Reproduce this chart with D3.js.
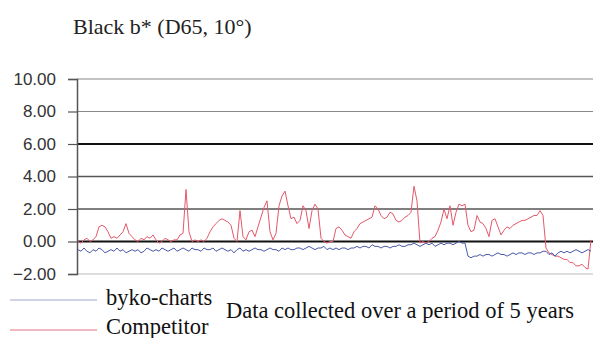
<!DOCTYPE html>
<html>
<head>
<meta charset="utf-8">
<script src="https://cdn.jsdelivr.net/npm/d3@7"></script>
<style>
  html, body { margin: 0; padding: 0; background: #fff; }
  svg { display: block; }
</style>
</head>
<body>
<svg id="chart" width="593" height="338"></svg>
<script>
const title = "Black b* (D65, 10°)";
const yTicks = [-2, 0, 2, 4, 6, 8, 10];
const seriesNames = ["byko-charts", "Competitor"];
const note = "Data collected over a period of 5 years";

const competitor = [
  0.0,-0.1,0.1,0.2,0.0,0.1,0.3,0.9,1.0,0.9,0.6,0.2,0.3,0.2,0.4,0.6,1.1,0.5,0.3,0.1,
  0.0,0.2,0.1,0.3,0.2,0.4,0.1,-0.1,0.0,0.2,0.1,0.0,0.1,0.1,0.4,0.5,3.2,0.6,0.0,0.1,
  0.0,0.1,0.0,0.2,0.6,0.9,1.1,1.3,1.4,1.3,1.2,1.0,0.2,0.0,1.9,0.3,0.1,0.6,0.7,0.3,
  0.9,1.5,2.1,2.5,0.6,0.1,0.5,2.2,2.8,3.1,2.2,1.4,1.5,1.1,1.3,2.2,1.9,0.8,1.9,2.3,
  2.0,0.2,0.0,-0.1,0.0,0.0,0.8,0.9,0.7,0.4,0.3,0.2,0.6,0.8,1.1,1.2,1.3,1.4,1.5,2.2,
  2.0,1.6,1.4,1.5,1.8,1.7,1.3,1.2,1.3,1.5,1.6,1.8,3.4,2.5,-0.1,0.0,-0.1,0.0,0.2,0.3,
  0.7,1.2,2.0,1.4,2.2,1.0,1.8,2.3,2.2,2.3,1.0,0.6,0.7,1.6,1.2,1.1,0.8,0.3,1.3,1.4,
  0.9,0.4,0.7,0.9,0.8,1.0,1.1,1.2,1.3,1.3,1.4,1.5,1.6,1.6,1.9,1.6,-0.4,-0.7,-0.8,-0.9,
  -0.9,-1.0,-1.1,-1.1,-1.3,-1.3,-1.5,-1.5,-1.4,-1.6,-1.7,0.1
];

const byko = [
  -0.5,-0.6,-0.4,-0.6,-0.7,-0.5,-0.6,-0.4,-0.5,-0.7,-0.6,-0.5,-0.6,-0.4,-0.6,-0.5,-0.7,-0.6,-0.5,-0.6,
  -0.5,-0.7,-0.6,-0.4,-0.5,-0.6,-0.5,-0.6,-0.4,-0.5,-0.6,-0.5,-0.4,-0.6,-0.5,
  -0.4,-0.5,-0.6,-0.4,-0.5,-0.5,-0.6,-0.4,-0.5,-0.5,-0.4,-0.6,-0.5,-0.4,-0.5,-0.6,-0.5,-0.7,-0.5,-0.4,
  -0.6,-0.5,-0.6,-0.5,-0.4,-0.5,-0.5,-0.6,-0.5,-0.4,-0.5,-0.5,-0.6,-0.4,-0.5,-0.4,-0.5,-0.5,-0.4,-0.4,
  -0.5,-0.4,-0.3,-0.4,-0.5,-0.4,-0.4,-0.3,-0.5,-0.4,
  -0.5,-0.4,-0.5,-0.4,-0.4,-0.5,-0.4,-0.4,-0.3,-0.4,-0.3,-0.3,-0.4,-0.2,-0.3,-0.3,-0.4,-0.3,-0.3,-0.4,
  -0.3,-0.3,-0.2,-0.3,-0.3,-0.2,-0.2,-0.1,-0.2,-0.3,-0.2,-0.1,-0.2,-0.1,-0.3,-0.2,-0.1,-0.2,-0.1,-0.1,
  -0.2,-0.1,0.0,-0.1,
  -0.1,-0.9,-1.0,-0.9,-0.9,-0.8,-0.9,-0.8,-0.8,-0.9,-0.8,-0.7,-0.8,-0.8,-0.9,-0.8,-0.7,-0.8,-0.7,-0.7,
  -0.8,-0.7,-0.7,-0.8,-0.7,-0.7,-0.6,
  -0.6,-0.8,-0.7,-0.9,-0.7,-0.6,-0.7,-0.6,-0.7,-0.6,-0.5,-0.6,-0.7,-0.6,-0.5,-0.6
];

const SERIF = '"Liberation Serif"';
const SANS = '"Liberation Sans"';

const svg = d3.select("#chart");
const plot = { left: 77, right: 593, top: 79, bottom: 274 };

const x = d3.scaleLinear().domain([0, competitor.length - 1]).range([plot.left + 1, 591]);
const y = d3.scaleLinear().domain([-2, 10]).range([plot.bottom, plot.top]);

// title
svg.append("text")
  .attr("x", 73).attr("y", 34)
  .style("font-family", SERIF)
  .style("font-size", "22px")
  .attr("fill", "#222")
  .text(title);

// gridlines
const gridStyle = v => {
  if (v === 0 || v === 6) return { c: "#111", w: 2 };
  if (v === 2 || v === 4) return { c: "#555", w: 1.5 };
  if (v === -2) return { c: "#bbb", w: 1.2 };
  return { c: "#888", w: 1.2 };
};
const grid = svg.append("g");
yTicks.forEach(v => {
  const s = gridStyle(v);
  grid.append("line")
    .attr("x1", plot.left).attr("x2", plot.right)
    .attr("y1", y(v)).attr("y2", y(v))
    .attr("stroke", s.c).attr("stroke-width", s.w);
});

// y axis
const yAxis = d3.axisLeft(y).tickValues(yTicks).tickSize(9).tickPadding(12)
  .tickFormat(d3.format(".2f"));
const ax = svg.append("g").attr("transform", `translate(${plot.left},0)`).call(yAxis);
ax.select(".domain").attr("stroke", "#555").attr("stroke-width", 1.5);
ax.selectAll(".tick line").attr("stroke", "#555").attr("stroke-width", 1.2);
ax.selectAll(".tick text")
  .style("font-family", SANS)
  .style("font-size", "17px")
  .attr("fill", "#333");

// series
const line = d3.line().x((d, i) => x(i)).y(d => y(d));
svg.append("path").datum(competitor)
  .attr("d", line).attr("fill", "none")
  .attr("stroke", "#e4586a").attr("stroke-width", 1);
svg.append("path").datum(byko)
  .attr("d", line).attr("fill", "none")
  .attr("stroke", "#4a5aa8").attr("stroke-width", 1);

// legend
const legend = svg.append("g");
const legendItems = [
  { name: seriesNames[0], color: "#a0a6cc", ly: 300, ty: 305 },
  { name: seriesNames[1], color: "#e07080", ly: 330, ty: 334 }
];
legendItems.forEach(it => {
  legend.append("line")
    .attr("x1", 10).attr("x2", 97)
    .attr("y1", it.ly).attr("y2", it.ly)
    .attr("stroke", it.color).attr("stroke-width", 1);
  legend.append("text")
    .attr("x", 106).attr("y", it.ty)
    .style("font-family", SERIF)
    .style("font-size", "22.5px")
    .attr("fill", "#111")
    .text(it.name);
});

svg.append("text")
  .attr("x", 226).attr("y", 318)
  .style("font-family", SERIF)
  .style("font-size", "22.5px")
  .attr("fill", "#111")
  .text(note);
</script>
</body>
</html>
